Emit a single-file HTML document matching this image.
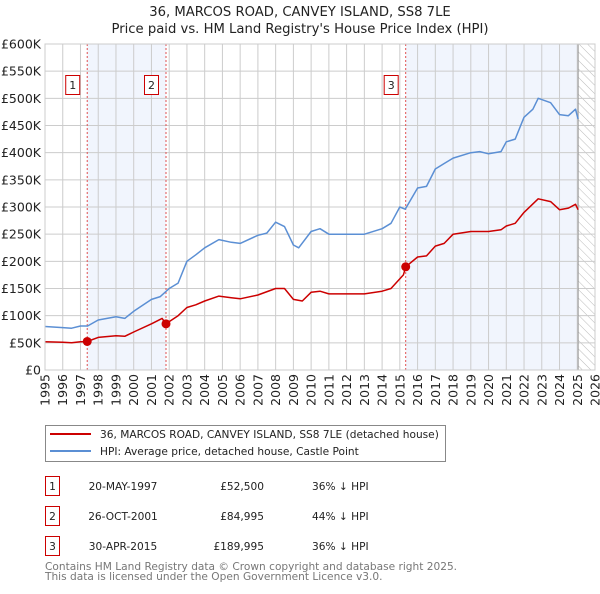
<!DOCTYPE html>
<html><head><meta charset="utf-8"><style>
html,body{margin:0;padding:0;background:#fff;}
body{width:600px;height:590px;overflow:hidden;font-family:"DejaVu Sans","Liberation Sans",sans-serif;}
svg text{font-family:"DejaVu Sans","Liberation Sans",sans-serif;}
</style></head><body>
<svg id="chart" width="600" height="590" xmlns="http://www.w3.org/2000/svg">
<defs><pattern id="hatch" width="6" height="6" patternUnits="userSpaceOnUse" patternTransform="rotate(-45)"><line x1="0" y1="0" x2="0" y2="6" stroke="#bbb" stroke-width="1"/></pattern></defs>
<text x="300" y="16" text-anchor="middle" font-size="13.2" fill="#222">36, MARCOS ROAD, CANVEY ISLAND, SS8 7LE</text>
<text x="300" y="33" text-anchor="middle" font-size="13.2" fill="#222">Price paid vs. HM Land Registry's House Price Index (HPI)</text>
<g id="plot"></g>
<g>
<rect x="45.5" y="425.5" width="400" height="36" fill="#fff" stroke="#888"/>
<line x1="50" y1="434" x2="91" y2="434" stroke="#cc0000" stroke-width="2"/>
<text x="100" y="438" font-size="10.6" fill="#222">36, MARCOS ROAD, CANVEY ISLAND, SS8 7LE (detached house)</text>
<line x1="50" y1="451" x2="91" y2="451" stroke="#5b8fd4" stroke-width="2"/>
<text x="100" y="455" font-size="10.6" fill="#222">HPI: Average price, detached house, Castle Point</text>
</g>
<g id="table" fill="#222"></g>
<text x="45" y="570" font-size="10.6" fill="#777">Contains HM Land Registry data © Crown copyright and database right 2025.</text>
<text x="45" y="580" font-size="10.6" fill="#777">This data is licensed under the Open Government Licence v3.0.</text>
</svg>
<script>
const hpiYears=[1995,1996,1996.5,1997,1997.4,1998,1999,1999.5,2000,2001,2001.5,2002,2002.5,2003,2003.5,2004,2004.8,2005.5,2006,2007,2007.5,2008,2008.5,2009,2009.3,2010,2010.5,2011,2012,2012.7,2013,2014,2014.5,2015,2015.3,2016,2016.5,2017,2017.5,2018,2019,2019.5,2020,2020.7,2021,2021.5,2022,2022.5,2022.8,2023.5,2024,2024.5,2024.9,2025.05];
const hpiValues=[80,78,77,81,81,92,98,95,108,130,135,150,160,200,212,225,240,235,233,248,252,272,264,230,225,255,260,250,250,250,250,260,270,300,296,335,338,370,380,390,400,402,398,402,420,425,465,480,500,492,470,468,480,462];
const propYears=[1995,1996,1996.5,1997,1997.38,1998,1999,1999.5,2000,2001,2001.6,2001.82,2002.5,2003,2003.5,2004,2004.8,2005.5,2006,2007,2008,2008.5,2009,2009.5,2010,2010.5,2011,2012,2013,2014,2014.5,2015.2,2015.33,2016,2016.5,2017,2017.5,2018,2019,2020,2020.7,2021,2021.5,2022,2022.8,2023.5,2024,2024.5,2024.9,2025.05];
const propValues=[52,51,50,52,52.5,60,63,62,70,85,95,85,100,115,120,127,136,133,131,138,150,150,130,127,143,145,140,140,140,145,150,175,190,208,210,228,233,250,255,255,258,265,270,290,315,310,295,298,305,295];
const saleYears=[1997.38,2001.82,2015.33];
const saleValues=[52.5,84.995,189.995];
const saleLabels=["1","2","3"];
const saleDates=["20-MAY-1997","26-OCT-2001","30-APR-2015"];
const salePrices=["£52,500","£84,995","£189,995"];
const saleDiffs=["36% ↓ HPI","44% ↓ HPI","36% ↓ HPI"];
const yTicks=[0,50,100,150,200,250,300,350,400,450,500,550,600];
const yTickLabels=["£0","£50K","£100K","£150K","£200K","£250K","£300K","£350K","£400K","£450K","£500K","£550K","£600K"];
const xTicks=[1995,1996,1997,1998,1999,2000,2001,2002,2003,2004,2005,2006,2007,2008,2009,2010,2011,2012,2013,2014,2015,2016,2017,2018,2019,2020,2021,2022,2023,2024,2025,2026];
const dataEnd=2025.05;

const X0=45,X1=595,Y0=370,Y1=44;
const xs=y=>X0+(y-1995)/31*(X1-X0);
const ys=v=>Y0-v/600*(Y0-Y1);
const NS="http://www.w3.org/2000/svg";
const plot=document.getElementById('plot');
function mk(tag,attrs,parent){const e=document.createElementNS(NS,tag);for(const k in attrs)e.setAttribute(k,attrs[k]);(parent||plot).appendChild(e);return e;}

let r=mk('rect',{x:xs(saleYears[0]),y:Y1,width:xs(saleYears[1])-xs(saleYears[0]),height:Y0-Y1,fill:'#eef3fc',opacity:0.8});


r=mk('rect',{x:xs(saleYears[2]),y:Y1,width:xs(dataEnd)-xs(saleYears[2]),height:Y0-Y1,fill:'#eef3fc',opacity:0.8});


r=mk('rect',{x:xs(dataEnd),y:Y1,width:X1-xs(dataEnd),height:Y0-Y1,fill:'url(#hatch)'});



yTicks.forEach((v,i)=>{
  const l=mk('line',{x1:X0,x2:X1,y1:ys(v),y2:ys(v),stroke:'#ccc','stroke-width':1});
  
  
  const t=mk('text',{x:X0-4,y:ys(v)+4.5,'text-anchor':'end','font-size':12.5,fill:'#222'});
  t.textContent=yTickLabels[i];
  
  
});
xTicks.forEach(yr=>{
  const l=mk('line',{x1:xs(yr),x2:xs(yr),y1:Y1,y2:Y0,stroke:'#ccc','stroke-width':1});
  
  
  const t=mk('text',{x:0,y:0,'text-anchor':'end','font-size':12.5,fill:'#222',transform:`translate(${xs(yr)+4.5},${Y0+4}) rotate(-90)`});
  t.textContent=yr;
  
  
});
const dl=mk('line',{x1:xs(dataEnd),x2:xs(dataEnd),y1:Y1,y2:Y0,stroke:'#999','stroke-width':1});



saleYears.forEach((yr,i)=>{
  const l=mk('line',{x1:xs(yr),x2:xs(yr),y1:Y1,y2:Y0,stroke:'#e05050','stroke-width':1,'stroke-dasharray':'2,2'});
  
  
  const b=mk('rect',{x:xs(yr)-21.5,y:75.5,width:14,height:19,fill:'#fff',stroke:'#cc0000'});
  
  
  const t=mk('text',{x:xs(yr)-14.5,y:89,'text-anchor':'middle','font-size':11,fill:'#222'});
  t.textContent=saleLabels[i];
  
  
});

function line(xa,va,color,name){
  const d=xa.map((x,i)=>(i?'L':'M')+xs(x).toFixed(1)+','+ys(va[i]).toFixed(1)).join('');
  const p=mk('path',{d:d,fill:'none',stroke:color,'stroke-width':1.5,'stroke-linejoin':'round'});
  
  
}
line(hpiYears,hpiValues,'#5b8fd4','hpi-line');
line(propYears,propValues,'#cc0000','property-line');
saleYears.forEach((yr,i)=>{
  const c=mk('circle',{cx:xs(yr),cy:ys(saleValues[i]),r:4.5,fill:'#cc0000'});
  
  
});
const frame=mk('rect',{x:X0,y:Y1,width:X1-X0,height:Y0-Y1,fill:'none',stroke:'#ccc'});



const tb=document.getElementById('table');
saleLabels.forEach((lab,i)=>{
  const y=476+i*30;
  const b=mk('rect',{x:45.5,y:y+0.5,width:14,height:19,fill:'#fff',stroke:'#cc0000'},tb);
  
  
  const vals=[[52.5,lab,'middle'],[123,saleDates[i],'middle'],[264,salePrices[i],'end'],[312,saleDiffs[i],'start']];
  vals.forEach(v=>{
    const t=mk('text',{x:v[0],y:y+14,'text-anchor':v[2],'font-size':10.6,fill:'#222'},tb);
    t.textContent=v[1];
    
    
  });
});
</script>
</body></html>
